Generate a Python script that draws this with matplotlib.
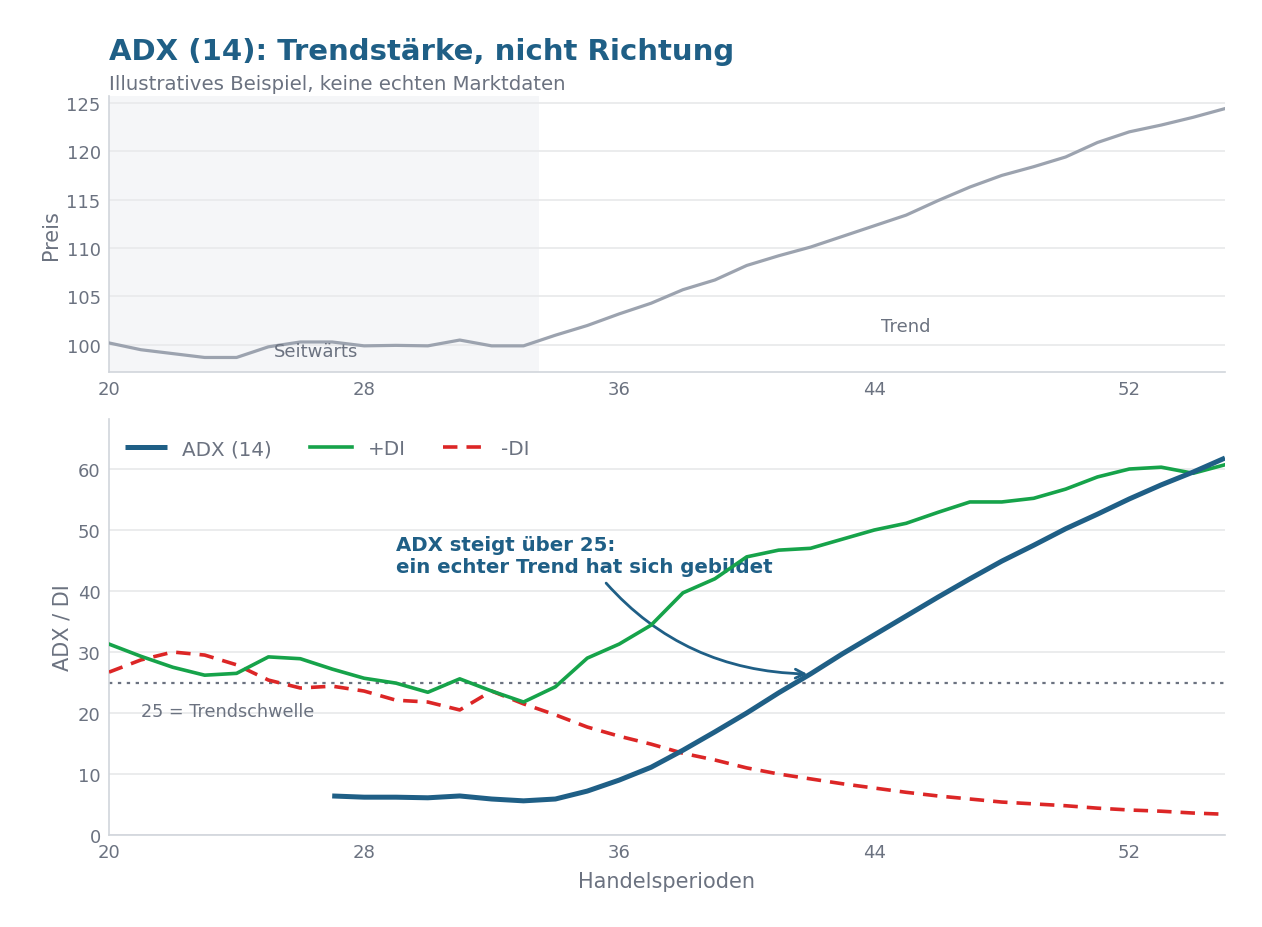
import matplotlib
matplotlib.use("Agg")
import matplotlib.pyplot as plt
import numpy as np

periods = list(range(20, 56))
price = [100.2, 99.5, 99.1, 98.7, 98.7, 99.8, 100.3, 100.3, 99.9, 99.95,
         99.9, 100.5, 99.9, 99.9, 101.0, 102.0, 103.2, 104.3, 105.7, 106.7,
         108.2, 109.2, 110.1, 111.2, 112.3, 113.4, 114.9, 116.3, 117.5, 118.4,
         119.4, 120.9, 122.0, 122.7, 123.5, 124.4]

adx_periods = list(range(27, 56))
adx = [6.4, 6.2, 6.2, 6.1, 6.4, 5.9, 5.6, 5.9, 7.2, 9.0, 11.1, 13.9, 16.9,
       20.0, 23.3, 26.4, 29.7, 32.8, 35.9, 39.0, 42.0, 44.9, 47.5, 50.2,
       52.6, 55.1, 57.4, 59.5, 61.8]

plus_di = [31.3, 29.3, 27.5, 26.2, 26.5, 29.2, 28.9, 27.2, 25.7, 24.9,
           23.4, 25.6, 23.6, 21.8, 24.3, 29.0, 31.3, 34.4, 39.7, 42.0,
           45.6, 46.7, 47.0, 48.5, 50.0, 51.1, 52.9, 54.6, 54.6, 55.2,
           56.7, 58.7, 60.0, 60.3, 59.3, 60.7]

minus_di = [26.7, 28.7, 30.0, 29.5, 27.9, 25.4, 24.1, 24.4, 23.6, 22.1,
            21.8, 20.5, 23.6, 21.5, 19.7, 17.7, 16.2, 14.9, 13.4, 12.3,
            11.0, 10.0, 9.2, 8.4, 7.7, 7.0, 6.4, 5.9, 5.4, 5.1,
            4.8, 4.4, 4.1, 3.9, 3.6, 3.4]

threshold = 25
sideways_end = 33.5
x_ticks = [20, 28, 36, 44, 52]

TITLE_C = "#1f5f86"
GRAY_TXT = "#6b7280"
SPINE_C = "#d1d5db"
GRID_C = "#e9eaec"
ADX_C = "#1f5f86"
PLUS_C = "#16a34a"
MINUS_C = "#dc2626"
PRICE_C = "#9ca3af"

plt.rcParams['font.family'] = ['DejaVu Sans']

fig = plt.figure(figsize=(12.62, 9.28), dpi=100)
W, H = 1262, 928
def rect(l, t, r, b):
    return [l / W, 1 - b / H, (r - l) / W, (b - t) / H]

ax1 = fig.add_axes(rect(109, 97, 1225, 373))
ax2 = fig.add_axes(rect(109, 420, 1225, 836))

def style(ax):
    ax.set_axisbelow(True)
    for s in ['top', 'right']:
        ax.spines[s].set_visible(False)
    for s in ['left', 'bottom']:
        ax.spines[s].set_color(SPINE_C)
        ax.spines[s].set_linewidth(1.2)
    ax.grid(axis='y', color=GRID_C, linewidth=1.3)
    ax.grid(axis='x', visible=False)
    ax.tick_params(axis='both', colors=GRAY_TXT, labelsize=13, length=0, pad=6)
    ax.set_xticks(x_ticks)
    ax.set_xlim(20, 55)

# --- top panel
style(ax1)
ax1.axvspan(20, sideways_end, color="#f5f6f8", zorder=0, lw=0)
ax1.plot(periods, price, color=PRICE_C, lw=2.3, zorder=3)
ax1.set_ylim(97.2, 125.7)
ax1.set_yticks([100, 105, 110, 115, 120, 125])
ax1.set_ylabel("Preis", color=GRAY_TXT, fontsize=15)
ax1.text(26.5, 99.4, "Seitwärts", color=GRAY_TXT, fontsize=13, ha='center', va='center', zorder=4)
ax1.text(45, 101.9, "Trend", color=GRAY_TXT, fontsize=13, ha='center', va='center', zorder=4)

# --- bottom panel
style(ax2)
ax2.axhline(threshold, color=GRAY_TXT, lw=1.6, ls=(0, (1.5, 2.5)), zorder=2)
ax2.plot(adx_periods, adx, color=ADX_C, lw=3.6, label="ADX (14)", zorder=5, solid_capstyle='butt')
ax2.plot(periods, plus_di, color=PLUS_C, lw=2.6, label="+DI", zorder=4)
ax2.plot(periods, minus_di, color=MINUS_C, lw=2.6, ls=(0, (4, 2.5)), label="-DI", zorder=3)
ax2.set_ylim(0, 68.2)
ax2.set_yticks([0, 10, 20, 30, 40, 50, 60])
ax2.set_ylabel("ADX / DI", color=GRAY_TXT, fontsize=15)
ax2.set_xlabel("Handelsperioden", color=GRAY_TXT, fontsize=15, labelpad=7)
ax2.text(21, 20.3, "25 = Trendschwelle", color=GRAY_TXT, fontsize=12.7, ha='left', va='center')

ax2.annotate("ADX steigt über 25:\nein echter Trend hat sich gebildet",
             xy=(41.9, 26.4), xytext=(29, 45.8),
             ha='left', va='center', fontsize=14.2, fontweight='bold', color=TITLE_C,
             linespacing=1.2,
             arrowprops=dict(arrowstyle='->', color=ADX_C, lw=2.0,
                             connectionstyle='arc3,rad=0.25', mutation_scale=16,
                             shrinkA=4, shrinkB=0))

leg = ax2.legend(loc='upper left', ncol=3, frameon=False, fontsize=14.3,
                 handlelength=2.1, columnspacing=1.9, bbox_to_anchor=(0.0, 0.99),
                 borderaxespad=0.4)
for t in leg.get_texts():
    t.set_color(GRAY_TXT)

fig.text(109 / W, 1 - 52 / H, "ADX (14): Trendstärke, nicht Richtung", fontsize=21,
         fontweight='bold', color=TITLE_C, ha='left', va='center')
fig.text(109 / W, 1 - 85 / H, "Illustratives Beispiel, keine echten Marktdaten", fontsize=14.2,
         color=GRAY_TXT, ha='left', va='center')

fig.savefig("out.png", dpi=100, facecolor='white')
